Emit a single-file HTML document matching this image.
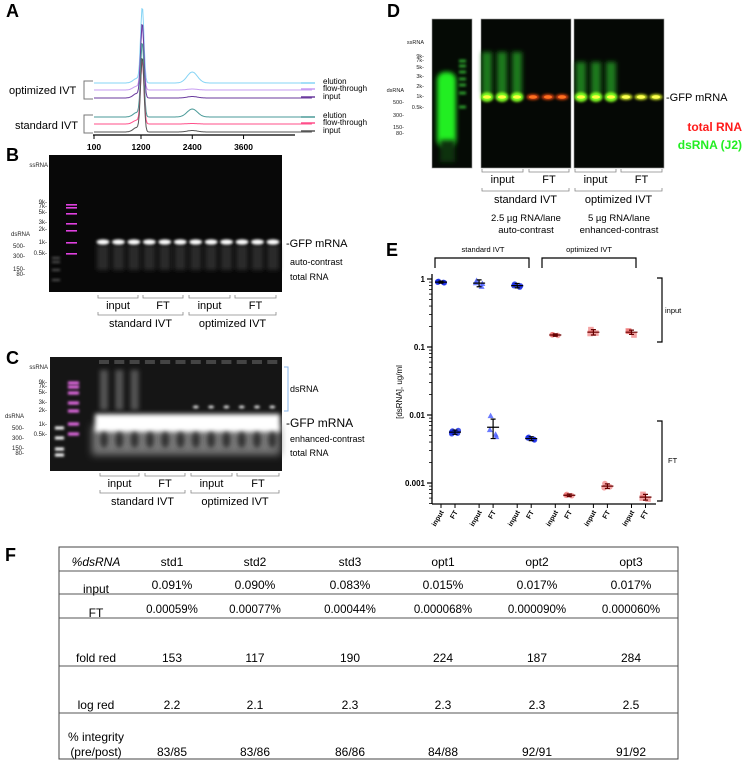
<!DOCTYPE html>
<html><head><meta charset="utf-8"><style>
html,body{margin:0;padding:0;background:#fff}
svg{display:block;font-family:"Liberation Sans",sans-serif}
</style></head><body>
<svg id="fig" width="748" height="760" viewBox="0 0 748 760" xmlns="http://www.w3.org/2000/svg">
<defs>
<filter id="b1" x="-50%" y="-100%" width="200%" height="300%"><feGaussianBlur stdDeviation="1.2"/></filter>
<filter id="b2" x="-50%" y="-100%" width="200%" height="300%"><feGaussianBlur stdDeviation="2.5"/></filter>
<filter id="b4" x="-50%" y="-50%" width="200%" height="200%"><feGaussianBlur stdDeviation="4"/></filter>
</defs>

<!-- Panel A -->
<g>
<text x="6" y="17" font-size="18" font-weight="bold">A</text>
<g id="a-curves"></g>
<line x1="93" y1="135" x2="295" y2="135" stroke="#000" stroke-width="1.2"/>
<g id="a-ticks"></g>
<text x="195" y="169" font-size="9" font-weight="bold" text-anchor="middle">Size (nt)</text>
<text x="9" y="94" font-size="11">optimized IVT</text>
<path d="M93,81 H84 V99 H93" fill="none" stroke="#777"/>
<text x="15" y="129" font-size="11">standard IVT</text>
<path d="M93,115 H84 V133 H93" fill="none" stroke="#777"/>
<g id="a-legend"></g>
</g>

<!-- Panel B -->
<g>
<text x="6" y="161" font-size="18" font-weight="bold">B</text>
<rect x="49" y="155" width="233" height="137" fill="#080808"/>
<g id="gelb"></g>
<g font-size="6" fill="#222" text-anchor="end">
<text x="48" y="167">ssRNA</text><text x="47" y="204">9k-</text><text x="47" y="208">7k-</text><text x="47" y="214">5k-</text><text x="47" y="224">3k-</text><text x="47" y="231">2k-</text><text x="30" y="236">dsRNA</text><text x="47" y="244">1k-</text><text x="25" y="248">500-</text><text x="47" y="255">0.5k-</text><text x="25" y="258">300-</text><text x="25" y="271">150-</text><text x="25" y="276">80-</text>
</g>
<text x="286" y="247" font-size="11">-GFP mRNA</text>
<text x="290" y="265" font-size="9">auto-contrast</text>
<text x="290" y="280" font-size="9">total RNA</text>
<g id="brkB"></g>
</g>

<!-- Panel C -->
<g>
<text x="6" y="364" font-size="18" font-weight="bold">C</text>
<rect x="50" y="357" width="232" height="114" fill="#151515"/>
<g id="gelc"></g>
<g font-size="6" fill="#222" text-anchor="end">
<text x="48" y="369">ssRNA</text><text x="47" y="384">9k-</text><text x="47" y="388">7k-</text><text x="47" y="394">5k-</text><text x="47" y="404">3k-</text><text x="47" y="412">2k-</text><text x="24" y="418">dsRNA</text><text x="47" y="426">1k-</text><text x="24" y="430">500-</text><text x="47" y="436">0.5k-</text><text x="24" y="440">300-</text><text x="24" y="450">150-</text><text x="24" y="455">80-</text>
</g>
<path d="M284,367 H288 V411 H284" fill="none" stroke="#8ab4e8"/>
<text x="290" y="392" font-size="9">dsRNA</text>
<text x="286" y="427" font-size="12">-GFP mRNA</text>
<text x="290" y="442" font-size="9">enhanced-contrast</text>
<text x="290" y="456" font-size="9">total RNA</text>
<g id="brkC"></g>
</g>

<!-- Panel D -->
<g>
<text x="387" y="17" font-size="18" font-weight="bold">D</text>
<rect x="432" y="19" width="40" height="149" fill="#050a05" stroke="#999" stroke-width="0.6"/>
<rect x="481" y="19" width="90" height="149" fill="#050805" stroke="#999" stroke-width="0.6"/>
<rect x="574" y="19" width="90" height="149" fill="#050805" stroke="#999" stroke-width="0.6"/>
<g id="geld"></g>
<g font-size="5.5" fill="#222" text-anchor="end">
<text x="424" y="44">ssRNA</text><text x="424" y="58">9k-</text><text x="424" y="62">7k-</text><text x="424" y="69">5k-</text><text x="424" y="78">3k-</text><text x="424" y="88">2k-</text><text x="404" y="92">dsRNA</text><text x="424" y="98">1k-</text><text x="404" y="104">500-</text><text x="424" y="109">0.5k-</text><text x="404" y="117">300-</text><text x="404" y="129">150-</text><text x="404" y="135">80-</text>
</g>
<text x="666" y="101" font-size="11">-GFP mRNA</text>
<text x="742" y="131" font-size="12" font-weight="bold" fill="#ff1a1a" text-anchor="end">total RNA</text>
<text x="742" y="149" font-size="12" font-weight="bold" fill="#22ee22" text-anchor="end">dsRNA (J2)</text>
<g id="brkD"></g>
<text x="526" y="221" font-size="9.5" text-anchor="middle">2.5 µg RNA/lane</text>
<text x="526" y="233" font-size="9.5" text-anchor="middle">auto-contrast</text>
<text x="619" y="221" font-size="9.5" text-anchor="middle">5 µg RNA/lane</text>
<text x="619" y="233" font-size="9.5" text-anchor="middle">enhanced-contrast</text>
</g>

<!-- Panel E -->
<g>
<text x="386" y="256" font-size="18" font-weight="bold">E</text>
<text x="483" y="252" font-size="7.5" text-anchor="middle">standard IVT</text>
<path d="M435,268 V258 H529 V268" fill="none" stroke="#000" stroke-width="1.2"/>
<text x="589" y="252" font-size="7.5" text-anchor="middle">optimized IVT</text>
<path d="M542,268 V258 H636 V268" fill="none" stroke="#000" stroke-width="1.2"/>
<path d="M657,278 H662 V342 H657" fill="none" stroke="#000" stroke-width="1.2"/>
<text x="665" y="313" font-size="7.5">input</text>
<path d="M657,421 H662 V501 H657" fill="none" stroke="#000" stroke-width="1.2"/>
<text x="668" y="463" font-size="7.5">FT</text>
<text transform="translate(402,392) rotate(-90)" font-size="8" text-anchor="middle">[dsRNA], ug/ml</text>
<line x1="432" y1="274" x2="432" y2="504" stroke="#000" stroke-width="1.3"/>
<line x1="432" y1="504" x2="656" y2="504" stroke="#000" stroke-width="1.3"/>
<g id="e-ticks"></g>
<g id="e-marks"></g>
</g>

<!-- Panel F -->
<g>
<text x="5" y="561" font-size="18" font-weight="bold">F</text>
<rect x="59" y="547" width="619" height="212" fill="none" stroke="#444" stroke-width="1"/>
<g stroke="#555" stroke-width="1">
<line x1="59" y1="571" x2="678" y2="571"/><line x1="59" y1="594" x2="678" y2="594"/><line x1="59" y1="618" x2="678" y2="618"/><line x1="59" y1="666" x2="678" y2="666"/><line x1="59" y1="713" x2="678" y2="713"/>
</g>
<g id="tbl" font-size="12" text-anchor="middle"></g>
</g>
</svg>

<script>
const NS="http://www.w3.org/2000/svg";
function mk(tag,attrs,parent){const e=document.createElementNS(NS,tag);for(const k in attrs)e.setAttribute(k,attrs[k]);parent.appendChild(e);return e;}

/* ---------- Panel A data ---------- */
const aTraces=["opt-elution","opt-flow-through","opt-input","std-elution","std-flow-through","std-input"];
const aLegend=["elution","flow-through","input","elution","flow-through","input"];
const aColors=["#86d4f5","#c79cf2","#6a3a9e","#4a9a98","#ff4f8a","#555555"];
const aMainPeak=[75,62,74,74,62,74];
const aSecondPeak=[11,1,1.5,8,0.5,1.5];
const aTickLabels=[100,1200,2400,3600];
const aBaseY=[83,90,98,117,124,132];
function ax(nt){return 94+(nt-100)*(141-94)/1100;}
const ca=document.getElementById('a-curves');
for(let i=0;i<aTraces.length;i++){
  let d="";
  for(let nt=100;nt<=5200;nt+=20){
    const y=aBaseY[i]-aMainPeak[i]*Math.exp(-Math.pow((nt-1230)/55,2))-aMainPeak[i]*0.06*Math.exp(-Math.pow((nt-1100)/120,2))-aSecondPeak[i]*Math.exp(-Math.pow((nt-2400)/170,2));
    d+=(d?"L":"M")+ax(nt).toFixed(1)+","+y.toFixed(1);
  }
  const p=mk('path',{d:d,fill:'none',stroke:aColors[i],'stroke-width':1},ca);
  
  
}
const al=document.getElementById('a-legend');
for(let i=0;i<aLegend.length;i++){
  const l=mk('line',{x1:301,x2:315,y1:aBaseY[i]-(i%3?1:0),y2:aBaseY[i]-(i%3?1:0),stroke:aColors[i],'stroke-width':1.5},al);
  
  
  const t=mk('text',{x:323,y:aBaseY[i]+1,'font-size':8},al);t.textContent=aLegend[i];
  
  
}
const at=document.getElementById('a-ticks');
aTickLabels.forEach(v=>{
  mk('line',{x1:ax(v),x2:ax(v),y1:135,y2:139,stroke:'#000'},at);
  const t=mk('text',{x:ax(v),y:150,'font-size':8.5,'font-weight':'bold','text-anchor':'middle'},at);t.textContent=v;
  
  
});

/* ---------- lane brackets ---------- */
function brackets(g,groups,y1,y2,fs){
  groups.forEach(gr=>{
    mk('path',{d:`M${gr[0]},${y1-3}V${y1}H${gr[1]}V${y1-3}`,fill:'none',stroke:'#888','stroke-width':0.8},g);
    const t=mk('text',{x:(gr[0]+gr[1])/2,y:y1+11,'font-size':fs,'text-anchor':'middle'},g);t.textContent=gr[2];
  });
  [[groups[0][0],groups[1][1],'standard IVT'],[groups[2][0],groups[3][1],'optimized IVT']].forEach(gr=>{
    mk('path',{d:`M${gr[0]},${y2-3}V${y2}H${gr[1]}V${y2-3}`,fill:'none',stroke:'#888','stroke-width':0.8},g);
    const t=mk('text',{x:(gr[0]+gr[1])/2,y:y2+12,'font-size':fs,'text-anchor':'middle'},g);t.textContent=gr[2];
  });
}
brackets(document.getElementById('brkB'),[[98,138,'input'],[143,183,'FT'],[189,230,'input'],[235,276,'FT']],298,315,11);
brackets(document.getElementById('brkC'),[[100,139,'input'],[145,185,'FT'],[191,232,'input'],[237,279,'FT']],476,493,11);
brackets(document.getElementById('brkD'),[[482,523,'input'],[529,569,'FT'],[575,616,'input'],[621,662,'FT']],172,191,11);

/* ---------- Gel B ---------- */
const gb=document.getElementById('gelb');
[205,208,214,224,231,243,254].forEach(y=>mk('rect',{x:66,y:y-1,width:11,height:1.6,fill:'#e040e0'},gb));
[258,262,270,280].forEach(y=>mk('rect',{x:52,y:y-1,width:8,height:2,fill:'#555',filter:'url(#b1)'},gb));
for(let i=0;i<12;i++){const x=103+i*15.45;
  mk('rect',{x:x-6,y:245,width:12,height:25,fill:'#2a2a2a',filter:'url(#b2)'},gb);
  mk('ellipse',{cx:x,cy:242,rx:6.5,ry:2.6,fill:'#fff',filter:'url(#b1)'},gb);}
/* ---------- Gel C ---------- */
const gc=document.getElementById('gelc');
mk('rect',{x:92,y:425,width:188,height:30,fill:'#777',filter:'url(#b4)'},gc);
mk('rect',{x:95,y:414,width:185,height:18,fill:'#fff',filter:'url(#b2)'},gc);
for(let i=0;i<12;i++){const x=104+i*15.3;
  mk('rect',{x:x-5,y:360,width:10,height:4,fill:'#444'},gc);
  mk('ellipse',{cx:x,cy:440,rx:4,ry:8,fill:'#333',filter:'url(#b2)'},gc);
  if(i<3)mk('rect',{x:x-4,y:370,width:8,height:40,fill:'#555',filter:'url(#b2)'},gc);
  if(i>=6&&i<12)mk('ellipse',{cx:x,cy:407,rx:3,ry:1.5,fill:'#ddd',filter:'url(#b1)'},gc);}
[383,387,393,403,411,424,434].forEach(y=>mk('rect',{x:68,y:y-1.5,width:11,height:3,fill:'#f070f0',filter:'url(#b1)'},gc));
[428,438,449,455].forEach(y=>mk('rect',{x:55,y:y-1.5,width:9,height:3,fill:'#fff',filter:'url(#b1)'},gc));
/* ---------- Gel D ---------- */
const gd=document.getElementById('geld');
mk('rect',{x:437,y:72,width:19,height:75,rx:8,fill:'#22ee22',filter:'url(#b2)'},gd);
mk('rect',{x:440,y:140,width:15,height:22,fill:'#0d300d',filter:'url(#b2)'},gd);
[61,66,72,79,85,93,107].forEach(y=>mk('rect',{x:459,y:y-1.5,width:7,height:3,fill:'#2a9a2a',filter:'url(#b1)'},gd));
const dLanes=[487,502,517,533,548,562,581,596,611,626,641,656];
dLanes.forEach((x,i)=>{
  const inp=(i%6)<3, opt=i>=6;
  if(inp)mk('rect',{x:x-5,y:opt?62:52,width:10,height:opt?32:42,fill:'#1a7a1a',filter:'url(#b2)'},gd);
  mk('ellipse',{cx:x,cy:97,rx:6.5,ry:inp?5:3,fill:inp?'#7fff20':(opt?'#c8e020':'#d04010'),filter:'url(#b1)'},gd);
  mk('ellipse',{cx:x,cy:97,rx:4,ry:1.8,fill:inp?'#ffff40':(opt?'#ffff50':'#ff7020')},gd);
});

/* ---------- Panel E data ---------- */
const eCats=["std1 input","std1 FT","std2 input","std2 FT","std3 input","std3 FT","opt1 input","opt1 FT","opt2 input","opt2 FT","opt3 input","opt3 FT"];
const eTickLabels=["input","FT","input","FT","input","FT","input","FT","input","FT","input","FT"];
const eMeans=[0.90,0.0056,0.87,0.0066,0.80,0.0045,0.150,0.00066,0.165,0.00090,0.165,0.00062];
const eSD=[0.03,0.0004,0.10,0.0021,0.06,0.0003,0.006,0.00003,0.015,0.00007,0.012,0.00006];
const eReps=[[0.92,0.89,0.90,0.88,0.91],[0.0058,0.0054,0.0056,0.0059,0.0053],[0.95,0.78,0.88,0.86],[0.0098,0.0052,0.0061,0.0048],[0.84,0.76,0.80,0.79],[0.0047,0.0044,0.0046,0.0043],[0.152,0.148,0.151],[0.00068,0.00065,0.00066],[0.18,0.16,0.158],[0.00098,0.00088,0.00085],[0.17,0.15,0.172],[0.00068,0.00058,0.0006]];
const eYTicks=[1,0.1,0.01,0.001];
const eYTickLabels=["1","0.1","0.01","0.001"];
function ex(i){return 441+Math.floor(i/2)*38.1+(i%2)*14;}
function ey(v){return 279-68*Math.log10(v);}
const et=document.getElementById('e-ticks');
eYTicks.forEach((v,k)=>{
  mk('line',{x1:427,x2:432,y1:ey(v),y2:ey(v),stroke:'#000','stroke-width':1.2},et);
  const t=mk('text',{x:425,y:ey(v)+3,'font-size':8,'font-weight':'bold','text-anchor':'end'},et);t.textContent=eYTickLabels[k];
  
  
  for(let m=2;m<10;m++){const yy=ey(v/10*m);if(yy<504)mk('line',{x1:429,x2:432,y1:yy,y2:yy,stroke:'#000','stroke-width':0.8},et);}
});
eTickLabels.forEach((lab,i)=>{
  mk('line',{x1:ex(i),x2:ex(i),y1:504,y2:508,stroke:'#000'},et);
  const t=mk('text',{transform:`translate(${ex(i)+3},${512}) rotate(-60)`,'font-size':7,'font-weight':'bold','text-anchor':'end'},et);t.textContent=lab;
  
  
});
const em=document.getElementById('e-marks');
eCats.forEach((c,i)=>{
  const opt=i>=6, x=ex(i);
  const fill=opt?'rgba(235,90,90,0.55)':(i===2||i===3?'rgba(70,90,255,0.8)':'rgba(20,40,230,0.8)');
  eReps[i].forEach((v,j)=>{
    const px=x+(j%2?2.5:-2.5)*(j>1?1.3:1);
    let s;
    if(i===2||i===3){s=mk('path',{d:`M${px},${ey(v)-3}L${px+3},${ey(v)+2.5}L${px-3},${ey(v)+2.5}Z`,fill:fill},em);}
    else if(opt&&(i%2===0&&i>7||i===11)){s=mk('rect',{x:px-2.8,y:ey(v)-2.8,width:5.6,height:5.6,fill:fill},em);}
    else{s=mk('circle',{cx:px,cy:ey(v),r:2.8,fill:fill},em);}
    
    
  });
  const col=opt?'#600':'#000';
  const y0=ey(eMeans[i]+eSD[i]),y1=ey(eMeans[i]-eSD[i]),ym=ey(eMeans[i]);
  const eb=mk('path',{d:`M${x},${y0}V${y1}M${x-2.5},${y0}H${x+2.5}M${x-2.5},${y1}H${x+2.5}M${x-6},${ym}H${x+6}`,stroke:col,'stroke-width':1.2,fill:'none'},em);
  
  
});

/* ---------- Table ---------- */
const colX=[96,172,255,350,443,537,631];
const rows=[
 {y:566,c:["%dsRNA","std1","std2","std3","opt1","opt2","opt3"]},
 {y:589,c:["input","0.091%","0.090%","0.083%","0.015%","0.017%","0.017%"]},
 {y:613,c:["FT","0.00059%","0.00077%","0.00044%","0.000068%","0.000090%","0.000060%"]},
 {y:662,c:["fold red","153","117","190","224","187","284"]},
 {y:709,c:["log red","2.2","2.1","2.3","2.3","2.3","2.5"]},
 {y:756,c:["(pre/post)","83/85","83/86","86/86","84/88","92/91","91/92"]}
];
const tb=document.getElementById('tbl');
rows.forEach((r,ri)=>{r.c.forEach((v,ci)=>{
  let yy=r.y; if(ci===0&&(ri===1||ri===2))yy+=4;
  const t=mk('text',{x:colX[ci],y:yy},tb);t.textContent=v;
  if(ri===0&&ci===0)t.setAttribute('font-style','italic');
  if(ri===2&&ci>0)t.setAttribute('font-size','11.5');
  
  
});});
const ti=mk('text',{x:96,y:741},tb);ti.textContent="% integrity";


</script>
</body></html>
